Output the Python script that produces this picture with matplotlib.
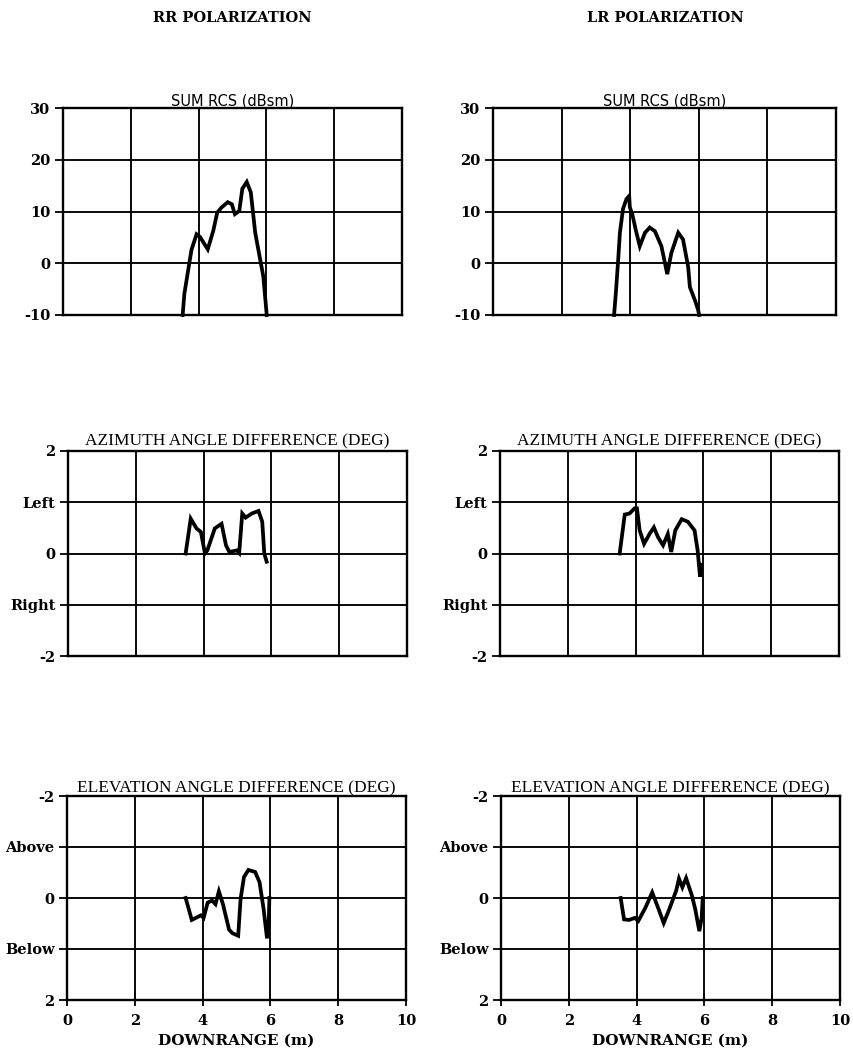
import matplotlib
matplotlib.use("Agg")
import matplotlib.pyplot as plt

# ---------------- data ----------------
x_ticks = [0, 2, 4, 6, 8, 10]
x_ticklabels = ["0", "2", "4", "6", "8", "10"]

rcs_yticks = [-10, 0, 10, 20, 30]
rcs_yticklabels = ["-10", "0", "10", "20", "30"]
az_yticks = [-2, -1, 0, 1, 2]
az_yticklabels = ["-2", "Right", "0", "Left", "2"]
el_yticks = [-2, -1, 0, 1, 2]
el_yticklabels = ["-2", "Above", "0", "Below", "2"]

col_titles = ["RR POLARIZATION", "LR POLARIZATION"]
rcs_title = "SUM RCS (dBsm)"
az_title = "AZIMUTH ANGLE DIFFERENCE (DEG)"
el_title = "ELEVATION ANGLE DIFFERENCE (DEG)"
x_label = "DOWNRANGE (m)"

# RR sum RCS
rr_rcs_x = [3.53, 3.58, 3.79, 3.94, 4.04, 4.27, 4.43, 4.55, 4.68, 4.86, 4.98,
            5.07, 5.20, 5.29, 5.42, 5.54, 5.67, 5.91, 6.01]
rr_rcs_y = [-10, -5.9, 2.6, 5.6, 5.1, 2.7, 6.2, 9.8, 10.8, 11.8, 11.4,
            9.5, 10.1, 14.4, 15.7, 13.7, 5.9, -2.6, -10]
# LR sum RCS
lr_rcs_x = [3.53, 3.58, 3.65, 3.70, 3.79, 3.89, 3.97, 3.99, 4.06, 4.17, 4.28,
            4.43, 4.57, 4.72, 4.91, 5.08, 5.20, 5.40, 5.54, 5.69, 5.74, 5.89,
            5.98, 6.01]
lr_rcs_y = [-10, -5.9, 0.7, 5.9, 10.5, 12.4, 13.0, 10.8, 9.5, 6.2, 3.3,
            5.9, 6.9, 6.2, 3.3, -2.1, 2.0, 5.9, 4.6, -0.7, -4.6, -7.2,
            -9.0, -10]
# RR azimuth difference
rr_az_x = [3.47, 3.62, 3.79, 3.92, 4.04, 4.11, 4.33, 4.53, 4.66, 4.76,
           4.98, 5.05, 5.14, 5.24, 5.42, 5.62, 5.73, 5.79, 5.86]
rr_az_y = [0.0, 0.68, 0.49, 0.42, 0.0, 0.06, 0.49, 0.58, 0.16, 0.03,
           0.06, 0.01, 0.78, 0.70, 0.78, 0.83, 0.62, 0.0, -0.16]
# LR azimuth difference
lr_az_x = [3.53, 3.68, 3.82, 3.97, 4.04, 4.12, 4.25, 4.41, 4.54, 4.66,
           4.81, 4.95, 5.05, 5.17, 5.36, 5.54, 5.74, 5.83, 5.90, 5.93]
lr_az_y = [0.0, 0.76, 0.78, 0.88, 0.88, 0.45, 0.19, 0.38, 0.51, 0.32,
           0.16, 0.38, 0.03, 0.45, 0.67, 0.62, 0.45, 0.06, -0.45, -0.22]
# RR elevation difference
rr_el_x = [3.50, 3.58, 3.68, 3.80, 3.95, 4.03, 4.15, 4.28, 4.38, 4.48,
           4.60, 4.78, 4.88, 5.05, 5.12, 5.22, 5.35, 5.55, 5.68, 5.80, 5.90,
           5.95, 5.97]
rr_el_y = [0.0, 0.19, 0.43, 0.39, 0.34, 0.39, 0.09, 0.05, 0.12, -0.13,
           0.12, 0.62, 0.69, 0.74, 0.02, -0.41, -0.55, -0.51, -0.31, 0.22, 0.79,
           0.49, 0.0]
# LR elevation difference
lr_el_x = [3.53, 3.63, 3.78, 3.95, 4.05, 4.26, 4.46, 4.61, 4.80, 4.97,
           5.17, 5.25, 5.35, 5.46, 5.63, 5.73, 5.85, 5.92, 5.95]
lr_el_y = [0.0, 0.42, 0.43, 0.39, 0.45, 0.19, -0.11, 0.15, 0.49, 0.21,
           -0.15, -0.38, -0.21, -0.39, -0.05, 0.22, 0.65, 0.39, 0.0]

# ---------------- figure ----------------
W, H = 854, 1062
fig = plt.figure(figsize=(W / 100, H / 100), dpi=100)
fig.patch.set_facecolor("white")

TICK_FONT = dict(family="DejaVu Serif", weight="bold", size=10.5)
TITLE_FONT = dict(family="Liberation Serif", size=12.5)


def make_axes(l, r, t, b):
    return fig.add_axes([l / W, 1 - b / H, (r - l) / W, (b - t) / H])


def style(ax, yticks, yticklabels, ylim, bottom_labels):
    ax.set_xlim(0, 10)
    ax.set_ylim(*ylim)
    ax.set_xticks(x_ticks)
    ax.set_yticks(yticks)
    ax.set_yticklabels(yticklabels, **TICK_FONT)
    if bottom_labels:
        ax.set_xticklabels(x_ticklabels, **TICK_FONT)
        ax.tick_params(axis="x", direction="inout", length=8, width=1.3, pad=6)
    else:
        ax.set_xticklabels([])
        ax.tick_params(axis="x", length=0)
    ax.tick_params(axis="y", direction="out", length=6, width=1.3, pad=3)
    ax.grid(True, color="black", linewidth=1.35)
    for sp in ax.spines.values():
        sp.set_linewidth(1.7)
        sp.set_color("black")
    ax.set_axisbelow(True)


LINE = dict(color="black", linewidth=2.7, solid_joinstyle="miter", clip_on=False)

# top row: sum RCS
ax = make_axes(63, 402, 108, 315)
style(ax, rcs_yticks, rcs_yticklabels, (-10, 30), False)
ax.plot(rr_rcs_x, rr_rcs_y, **LINE)
ax.set_title(rcs_title, family="DejaVu Sans", size=10.5, pad=2)

ax = make_axes(493, 836, 108, 315)
style(ax, rcs_yticks, rcs_yticklabels, (-10, 30), False)
ax.plot(lr_rcs_x, lr_rcs_y, **LINE)
ax.set_title(rcs_title, family="DejaVu Sans", size=10.5, pad=2)

# middle row: azimuth
ax = make_axes(68, 407, 451, 656)
style(ax, az_yticks, az_yticklabels, (-2, 2), False)
ax.plot(rr_az_x, rr_az_y, **LINE)
ax.set_title(az_title, pad=4, **TITLE_FONT)

ax = make_axes(500, 839, 451, 656)
style(ax, az_yticks, az_yticklabels, (-2, 2), False)
ax.plot(lr_az_x, lr_az_y, **LINE)
ax.set_title(az_title, pad=4, **TITLE_FONT)

# bottom row: elevation (inverted axis: -2 at top)
ax = make_axes(67, 406, 796, 1000)
style(ax, el_yticks, el_yticklabels, (2, -2), True)
ax.plot(rr_el_x, rr_el_y, **LINE)
ax.set_title(el_title, pad=1, **TITLE_FONT)
ax.set_xlabel(x_label, family="DejaVu Serif", weight="bold", size=11, labelpad=4)

ax = make_axes(501, 840, 796, 1000)
style(ax, el_yticks, el_yticklabels, (2, -2), True)
ax.plot(lr_el_x, lr_el_y, **LINE)
ax.set_title(el_title, pad=1, **TITLE_FONT)
ax.set_xlabel(x_label, family="DejaVu Serif", weight="bold", size=11, labelpad=4)

# column headings
fig.text(232 / W, 1 - 18 / H, col_titles[0], ha="center", va="center",
         family="DejaVu Serif", weight="bold", size=10.5)
fig.text(665 / W, 1 - 18 / H, col_titles[1], ha="center", va="center",
         family="DejaVu Serif", weight="bold", size=10.5)

fig.savefig("out.png", dpi=100, facecolor="white")
